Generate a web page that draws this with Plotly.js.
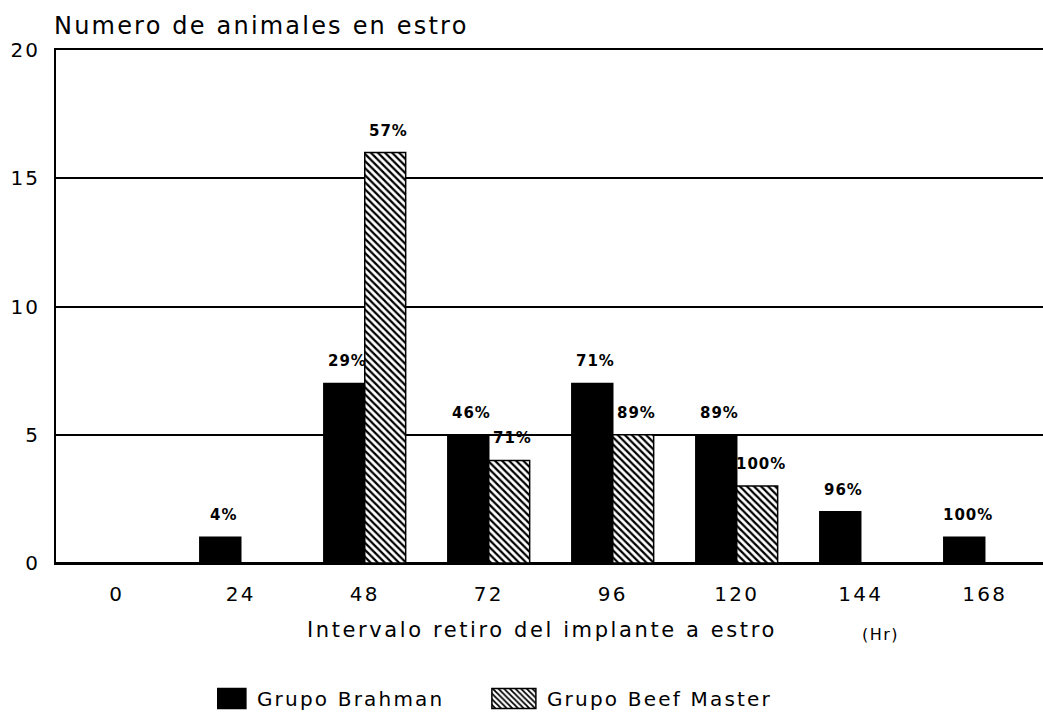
<!DOCTYPE html>
<html>
<head>
<meta charset="utf-8">
<script src="https://cdn.plot.ly/plotly-3.0.1.min.js"></script>
<style>
  html, body { margin: 0; padding: 0; background: #fff; }
  #chart { width: 1043px; height: 718px; }
</style>
</head>
<body>
<div id="chart"></div>
<script>
// ---- data ----
const categories = ['0', '24', '48', '72', '96', '120', '144', '168'];
const brahman = [0, 1, 7, 5, 7, 5, 2, 1];
const beefMaster = [0, 0, 16, 4, 5, 3, 0, 0];
const brahmanPct = ['', '4%', '29%', '46%', '71%', '89%', '96%', '100%'];
const beefMasterPct = ['', '', '57%', '71%', '89%', '100%', '', ''];
const yTicks = [0, 5, 10, 15, 20];

const FONT = 'DejaVu Sans, sans-serif';
const sp = (t, ls) => `<span style="letter-spacing:${ls}px">${t}</span>`;

const traces = [
  {
    type: 'bar', name: sp('Grupo Brahman', 2.2), x: categories, y: brahman,
    marker: { color: '#000', line: { color: '#000', width: 1.5 } },
    hoverinfo: 'x+y'
  },
  {
    type: 'bar', name: sp('Grupo Beef Master', 2.2), x: categories, y: beefMaster,
    marker: {
      color: '#fff',
      line: { color: '#000', width: 1.5 },
      pattern: { shape: '\\', fgcolor: '#000', bgcolor: '#fff', size: 5, solidity: 0.45 }
    },
    hoverinfo: 'x+y'
  }
];

const pctFont = { family: FONT, size: 15, color: '#000', weight: 'bold' };
const annotations = [];
categories.forEach((c, i) => {
  if (brahmanPct[i]) annotations.push({
    x: i, y: brahman[i], xref: 'x', yref: 'y', text: sp(brahmanPct[i], 1), showarrow: false,
    xshift: -17, yshift: 11, yanchor: 'bottom', font: pctFont
  });
  if (beefMasterPct[i]) annotations.push({
    x: i, y: beefMaster[i], xref: 'x', yref: 'y', text: sp(beefMasterPct[i], 1), showarrow: false,
    xshift: 24, yshift: 11, yanchor: 'bottom', font: pctFont
  });
});
annotations.push({
  xref: 'paper', yref: 'paper', x: -0.004, y: 1.047, xanchor: 'left', yanchor: 'middle',
  text: sp('Numero de animales en estro', 2.2), showarrow: false,
  font: { family: FONT, size: 24, color: '#000' }
});
annotations.push({
  xref: 'paper', yref: 'paper', x: 0.4925, y: -0.13, xanchor: 'center', yanchor: 'middle',
  text: sp('Intervalo retiro del implante a estro', 2.6), showarrow: false,
  font: { family: FONT, size: 21, color: '#000' }
});
annotations.push({
  xref: 'paper', yref: 'paper', x: 0.835, y: -0.14, xanchor: 'center', yanchor: 'middle',
  text: sp('(Hr)', 1.5), showarrow: false,
  font: { family: FONT, size: 16, color: '#000' }
});

const layout = {
  width: 1043, height: 718,
  margin: { l: 56, r: 0, t: 50, b: 152 },
  paper_bgcolor: '#fff', plot_bgcolor: '#fff',
  font: { family: FONT, size: 20, color: '#000' },
  barmode: 'group', bargap: 0.34, bargroupgap: 0,
  showlegend: true,
  legend: {
    orientation: 'h', x: 0.163, xanchor: 'left', y: -0.265, yanchor: 'middle',
    font: { family: FONT, size: 20, color: '#000' },
    entrywidth: 245, entrywidthmode: 'pixels',
    tracegroupgap: 0, itemclick: false
  },
  xaxis: {
    type: 'category', range: [-0.49, 7.47],
    tickvals: categories, ticktext: categories.map(c => sp(c, 2.2)),
    showgrid: false, showline: true, mirror: true, linecolor: '#000', linewidth: 2,
    ticks: 'outside', ticklen: 12, tickcolor: 'rgba(0,0,0,0)',
    tickfont: { family: FONT, size: 20, color: '#000' },
    fixedrange: true
  },
  yaxis: {
    range: [0, 20], tickvals: yTicks, ticktext: yTicks.map(v => sp(v, 2)),
    showgrid: true, gridcolor: '#000', gridwidth: 2,
    zeroline: true, zerolinecolor: '#000', zerolinewidth: 2,
    showline: true, linecolor: '#000', linewidth: 2,
    ticks: 'outside', ticklen: 10, tickcolor: 'rgba(0,0,0,0)',
    tickfont: { family: FONT, size: 20, color: '#000' },
    fixedrange: true
  },
  annotations: annotations
};

// enlarge legend swatches (wide rectangles like the original key)
function fixLegend(gd) {
  gd.querySelectorAll('.legend .traces').forEach(tr => {
    const path = tr.querySelector('.legendpoints path');
    const text = tr.querySelector('.legendtext');
    if (!path || !text) return;
    path.removeAttribute('transform');
    path.setAttribute('d', 'M22,10H-22V-10H22Z');
    const pr = path.getBoundingClientRect();
    const tr2 = text.getBoundingClientRect();
    const cx = (pr.left + pr.right) / 2;
    const target = tr2.left - 11 - 22;
    path.setAttribute('transform', `translate(${target - cx},0)`);
  });
}

Plotly.newPlot('chart', traces, layout, { displayModeBar: false, staticPlot: true }).then(gd => {
  fixLegend(gd);
});
</script>
</body>
</html>
